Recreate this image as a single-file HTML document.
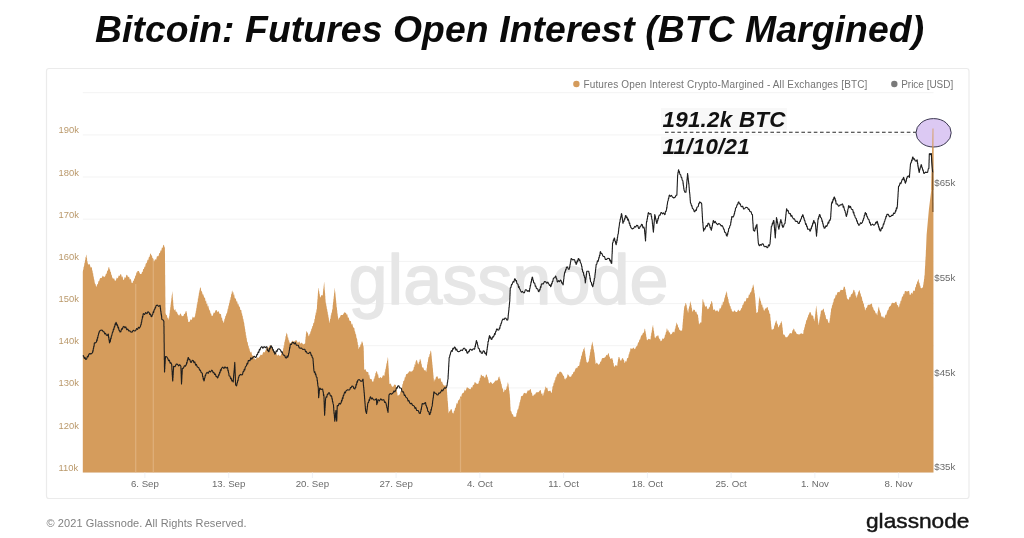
<!DOCTYPE html>
<html lang="en"><head><meta charset="utf-8"><title>Bitcoin: Futures Open Interest (BTC Margined)</title>
<style>
html,body{margin:0;padding:0;background:#fff;}
body{width:1024px;height:538px;overflow:hidden;position:relative;font-family:"Liberation Sans",Arial,sans-serif;}
svg{position:absolute;left:0;top:0;display:block;filter:blur(0.35px);}
text{font-family:"Liberation Sans",Arial,sans-serif;}
.title{font-size:37.3px;letter-spacing:0.1px;font-weight:bold;font-style:italic;fill:#0a0a0a;}
.ann{font-size:22.4px;letter-spacing:0.25px;font-weight:bold;font-style:italic;fill:#111;}
.ax text{font-size:9.7px;fill:#6b6b6b;}
.yl text{font-size:9.4px;fill:#ba996b;}
.lg text{font-size:10px;fill:#757575;}
.grid line{stroke:#f3f3f3;stroke-width:1;}
</style></head>
<body>
<svg width="1024" height="538" viewBox="0 0 1024 538">
<rect x="0" y="0" width="1024" height="538" fill="#ffffff"/>
<text class="title" x="95" y="41.7">Bitcoin: Futures Open Interest (BTC Margined)</text>
<rect x="46.5" y="68.5" width="922.5" height="430" rx="2.5" fill="#fff" stroke="#ebebeb" stroke-width="1.2"/>
<g class="grid"><line x1="82.8" x2="933.5" y1="92.7" y2="92.7"/><line x1="82.8" x2="933.5" y1="134.9" y2="134.9"/><line x1="82.8" x2="933.5" y1="177.0" y2="177.0"/><line x1="82.8" x2="933.5" y1="219.2" y2="219.2"/><line x1="82.8" x2="933.5" y1="261.4" y2="261.4"/><line x1="82.8" x2="933.5" y1="303.6" y2="303.6"/><line x1="82.8" x2="933.5" y1="345.7" y2="345.7"/><line x1="82.8" x2="933.5" y1="387.9" y2="387.9"/><line x1="82.8" x2="933.5" y1="430.1" y2="430.1"/><line x1="82.8" x2="933.5" y1="472.2" y2="472.2"/></g>
<text x="348.5" y="303.5" font-size="70" fill="#e6e6e6" stroke="#e6e6e6" stroke-width="1.4" stroke-linejoin="round" textLength="320" lengthAdjust="spacingAndGlyphs">glassnode</text>
<path d="M82.8,472.4 L82.8,272.0 L83.1,269.6 L83.4,269.8 L83.6,266.6 L83.9,267.0 L84.2,265.3 L84.5,262.5 L84.8,262.9 L85.1,259.9 L85.3,260.0 L85.6,256.9 L85.9,256.9 L86.2,254.6 L86.5,255.2 L86.7,257.9 L87.0,257.8 L87.2,261.5 L87.5,261.0 L87.7,263.3 L88.7,264.8 L89.7,263.9 L90.6,267.5 L91.6,267.3 L91.9,267.4 L92.2,270.9 L92.5,270.0 L92.8,273.5 L93.1,273.0 L93.4,276.6 L93.7,276.6 L94.0,279.4 L94.3,279.4 L94.6,281.9 L95.1,284.2 L95.5,283.4 L96.0,286.4 L96.5,286.8 L97.2,284.0 L97.8,284.5 L98.5,281.1 L99.1,281.3 L99.8,278.7 L100.4,278.0 L101.6,278.0 L102.8,275.6 L104.1,277.2 L105.3,276.0 L106.0,273.5 L106.6,274.0 L107.2,270.5 L107.9,270.8 L108.5,267.2 L109.2,267.3 L109.6,269.7 L110.0,269.1 L110.4,272.3 L110.9,271.6 L111.3,275.4 L111.7,274.2 L112.1,277.0 L113.1,278.9 L114.0,278.0 L115.0,281.0 L115.9,280.2 L116.8,277.5 L117.8,278.5 L118.7,275.4 L119.6,275.9 L120.5,274.0 L121.2,274.4 L121.9,277.4 L122.5,276.1 L123.2,279.7 L123.9,280.0 L124.7,277.1 L125.6,278.1 L126.4,274.8 L127.2,275.0 L128.1,277.2 L129.0,276.4 L129.9,279.7 L130.8,278.8 L131.7,282.9 L132.6,283.0 L133.1,280.5 L133.7,281.3 L134.2,278.2 L134.8,278.7 L135.3,275.0 L135.9,276.3 L136.4,272.1 L137.0,272.9 L137.5,271.0 L138.8,270.9 L140.1,274.0 L141.4,274.0 L142.0,271.9 L142.6,272.1 L143.2,269.1 L143.9,269.1 L144.5,266.5 L145.1,267.0 L145.7,263.8 L146.3,263.3 L146.9,262.5 L147.6,259.4 L148.2,260.3 L148.9,256.9 L149.5,257.1 L150.2,253.7 L150.8,253.6 L151.4,256.1 L151.9,254.7 L152.4,258.6 L153.0,257.8 L153.6,260.8 L154.1,261.4 L155.1,259.1 L156.1,260.1 L157.0,256.0 L158.0,256.5 L158.7,255.6 L159.3,253.0 L160.0,253.1 L160.6,250.3 L161.3,250.8 L161.9,247.4 L162.6,248.0 L163.2,245.3 L163.9,244.8 L164.4,247.0 L164.9,247.7 L164.9,248.1 L164.9,251.5 L164.9,250.5 L165.0,254.6 L165.0,253.9 L165.0,257.5 L165.0,256.7 L165.0,259.9 L165.0,259.4 L165.0,263.6 L165.1,262.4 L165.1,266.6 L165.1,265.9 L165.1,269.2 L165.1,269.1 L165.1,272.4 L165.1,272.1 L165.1,274.8 L165.2,274.9 L165.2,277.8 L165.2,277.8 L165.2,280.7 L165.2,281.1 L165.2,283.8 L165.2,284.0 L165.3,286.9 L165.3,287.0 L165.3,290.4 L165.3,289.4 L165.3,292.7 L165.3,292.7 L165.3,295.8 L165.3,295.6 L165.4,298.6 L165.4,298.1 L165.4,302.4 L165.4,301.4 L165.4,304.9 L165.4,304.7 L165.4,307.5 L165.5,307.5 L165.5,310.6 L165.5,310.0 L165.5,313.0 L166.2,314.9 L166.8,315.0 L167.5,318.4 L168.1,317.3 L168.8,320.0 L169.0,319.0 L169.2,315.7 L169.4,315.9 L169.5,312.8 L169.7,313.8 L169.9,309.5 L170.1,310.6 L170.3,307.1 L170.5,307.3 L170.6,304.2 L170.8,304.7 L171.0,300.9 L171.2,301.7 L171.4,298.1 L171.6,298.2 L171.7,294.6 L171.9,295.9 L172.1,291.6 L172.3,291.7 L172.4,294.3 L172.6,293.2 L172.7,297.2 L172.8,296.8 L172.9,300.1 L173.1,299.7 L173.2,302.6 L173.3,303.0 L173.4,305.9 L173.6,305.8 L173.7,308.3 L174.5,310.4 L175.3,308.9 L176.0,312.5 L176.8,311.2 L177.6,314.0 L179.1,315.8 L180.5,313.3 L181.9,316.2 L183.4,316.0 L184.2,313.8 L184.9,314.0 L185.7,311.3 L186.4,311.0 L186.7,313.1 L186.9,312.8 L187.2,316.9 L187.5,315.7 L187.8,319.6 L188.0,319.0 L188.3,322.0 L189.4,322.1 L190.6,319.2 L191.7,319.9 L192.8,316.4 L194.0,318.1 L195.1,316.0 L195.4,313.0 L195.6,313.8 L195.9,310.6 L196.1,311.1 L196.4,307.5 L196.6,308.2 L196.9,303.9 L197.2,304.8 L197.4,301.5 L197.7,302.4 L197.9,298.2 L198.2,298.7 L198.5,295.8 L198.7,295.7 L199.0,292.1 L199.2,293.3 L199.5,289.9 L199.7,290.4 L200.0,287.8 L200.7,287.5 L201.3,291.6 L201.9,291.1 L202.6,294.4 L203.2,294.2 L203.9,296.5 L204.4,298.1 L205.0,297.4 L205.5,301.4 L206.1,300.5 L206.6,304.3 L207.2,303.2 L207.7,306.8 L208.3,305.4 L208.8,308.3 L209.4,310.3 L210.0,310.4 L210.5,313.5 L211.1,313.5 L211.7,316.0 L212.7,315.7 L213.7,312.6 L214.6,313.1 L215.6,310.3 L216.6,310.0 L217.6,312.2 L218.6,310.9 L219.5,313.7 L220.5,314.0 L221.0,314.2 L221.5,318.2 L222.0,317.3 L222.5,321.2 L223.0,320.3 L223.5,323.0 L224.0,322.3 L224.5,318.7 L225.0,318.8 L225.4,315.8 L225.9,316.0 L226.4,313.2 L226.9,313.6 L227.4,311.0 L227.8,308.6 L228.1,308.9 L228.5,305.2 L228.8,306.0 L229.2,302.7 L229.5,303.1 L229.9,299.6 L230.2,300.5 L230.6,297.1 L230.9,297.3 L231.2,294.1 L231.6,294.2 L232.0,290.6 L232.3,290.7 L232.8,292.8 L233.3,292.0 L233.8,295.6 L234.2,294.3 L234.7,297.9 L235.2,298.5 L235.8,298.4 L236.5,301.8 L237.1,301.1 L237.8,304.6 L238.4,303.7 L239.1,307.0 L239.7,306.2 L240.4,309.9 L241.0,310.0 L241.3,310.0 L241.7,313.9 L242.0,312.5 L242.3,316.1 L242.7,315.6 L243.0,319.6 L243.3,318.2 L243.7,321.5 L244.0,322.5 L244.2,323.1 L244.5,326.2 L244.7,326.2 L245.0,329.0 L245.2,329.2 L245.4,332.5 L245.7,331.5 L245.9,335.7 L246.2,335.1 L246.4,338.5 L246.7,337.6 L246.9,340.5 L247.3,342.4 L247.7,341.8 L248.1,346.1 L248.6,345.4 L249.0,349.0 L249.4,348.1 L249.8,350.7 L250.6,352.7 L251.3,351.4 L252.1,355.5 L252.8,355.6 L253.8,356.0 L254.7,358.9 L255.7,359.5 L257.0,357.2 L258.3,358.1 L259.6,356.5 L260.8,354.6 L262.1,355.2 L263.3,352.1 L264.5,352.6 L265.2,351.2 L266.0,349.2 L267.2,346.9 L268.4,348.0 L269.7,345.5 L270.9,345.3 L271.5,347.2 L272.2,346.5 L272.9,350.0 L273.5,349.7 L274.1,353.1 L274.8,353.1 L276.0,352.3 L277.2,355.8 L278.5,354.5 L279.7,356.1 L280.7,355.4 L281.6,352.7 L282.6,352.2 L282.9,351.8 L283.2,348.2 L283.5,348.1 L283.8,345.0 L284.1,345.9 L284.4,341.6 L284.7,342.2 L285.0,339.2 L285.3,339.8 L285.6,335.8 L285.9,336.6 L286.2,333.3 L286.5,332.6 L286.9,334.4 L287.3,334.0 L287.7,337.5 L288.2,337.4 L288.6,340.8 L289.0,339.6 L289.4,342.4 L290.9,343.0 L292.4,340.6 L293.8,342.1 L295.3,340.5 L296.6,340.3 L297.9,342.9 L299.2,341.3 L300.5,343.7 L301.8,342.5 L303.1,344.4 L305.0,343.4 L305.2,343.2 L305.3,339.6 L305.5,339.6 L305.6,336.5 L305.8,336.9 L305.9,334.1 L306.1,334.0 L306.2,331.3 L306.4,330.7 L307.0,332.6 L307.7,332.5 L308.4,335.6 L309.0,336.5 L309.5,333.6 L310.0,334.4 L310.5,331.2 L311.0,331.5 L311.4,328.6 L311.9,328.7 L312.4,326.0 L312.9,325.9 L313.4,322.8 L313.9,322.9 L314.2,322.2 L314.5,318.9 L314.9,319.1 L315.2,315.1 L315.5,315.7 L315.8,312.2 L316.2,313.0 L316.5,309.5 L316.8,309.2 L316.9,308.8 L317.0,305.0 L317.1,305.4 L317.2,301.6 L317.3,302.8 L317.4,298.9 L317.6,299.6 L317.7,295.5 L317.8,296.3 L317.9,292.7 L318.0,292.9 L318.1,290.0 L318.2,289.7 L318.3,287.7 L318.6,288.3 L318.9,291.5 L319.2,290.9 L319.4,293.8 L319.7,293.9 L320.0,297.2 L320.3,297.5 L321.5,294.9 L322.6,295.5 L322.8,294.9 L323.0,291.5 L323.1,291.5 L323.3,288.4 L323.5,288.7 L323.7,285.5 L323.8,285.7 L324.0,282.4 L324.2,281.9 L324.3,284.6 L324.4,283.2 L324.5,287.2 L324.6,286.9 L324.7,290.6 L324.8,289.8 L325.0,293.0 L325.1,293.1 L325.2,296.1 L325.3,295.7 L325.4,299.2 L325.5,299.0 L325.6,301.4 L325.9,303.6 L326.1,303.5 L326.4,306.3 L326.6,306.3 L326.9,309.3 L327.2,309.2 L327.4,311.8 L327.7,311.8 L327.9,314.8 L328.2,314.4 L328.5,318.0 L328.7,317.1 L329.0,321.0 L329.2,320.0 L329.5,322.9 L329.8,322.5 L330.1,318.7 L330.5,319.0 L330.8,315.1 L331.1,315.7 L331.4,312.3 L331.8,313.2 L332.1,309.9 L332.4,309.2 L332.6,308.8 L332.7,304.5 L332.9,305.5 L333.1,301.6 L333.3,302.6 L333.4,299.1 L333.6,299.3 L333.8,295.7 L333.9,296.5 L334.1,292.3 L334.3,293.4 L334.5,289.5 L334.6,290.4 L334.8,287.7 L334.9,287.8 L335.1,291.7 L335.2,291.2 L335.4,294.1 L335.5,294.4 L335.7,297.4 L335.8,297.4 L336.0,300.9 L336.1,300.0 L336.3,303.7 L336.4,302.9 L336.6,306.8 L336.7,307.3 L336.9,307.5 L337.1,310.4 L337.2,310.0 L337.4,314.0 L337.6,313.1 L337.8,316.6 L337.9,315.8 L338.1,319.0 L338.3,320.0 L339.0,317.3 L339.8,318.0 L340.5,315.4 L341.2,315.0 L342.8,314.9 L344.4,312.2 L346.0,313.0 L346.7,314.8 L347.3,314.2 L348.0,318.3 L348.7,317.1 L349.3,320.3 L350.0,321.0 L350.8,321.1 L351.6,324.7 L352.3,323.6 L353.1,327.3 L353.9,327.8 L354.3,328.0 L354.7,331.2 L355.1,331.5 L355.6,334.5 L356.0,334.0 L356.4,337.6 L356.8,338.5 L357.1,338.7 L357.4,341.9 L357.7,342.3 L357.9,345.2 L358.2,344.7 L358.5,348.6 L358.8,349.2 L359.4,346.5 L360.0,347.2 L360.6,344.0 L361.1,344.8 L361.7,341.5 L362.3,341.4 L362.6,343.2 L362.9,342.5 L363.1,346.0 L363.4,345.2 L363.7,348.3 L363.7,351.1 L363.8,350.6 L363.8,353.7 L363.8,353.0 L363.9,357.3 L363.9,356.4 L363.9,359.7 L364.0,359.7 L364.0,363.5 L364.1,362.8 L364.1,366.2 L364.1,366.0 L364.2,369.3 L364.2,370.0 L365.3,369.0 L366.5,371.8 L367.6,372.0 L368.2,371.9 L368.8,375.6 L369.3,374.6 L369.9,378.6 L370.5,379.0 L371.5,378.9 L372.4,381.8 L373.4,381.5 L373.8,378.8 L374.3,378.8 L374.7,376.2 L375.1,376.3 L375.5,372.8 L376.0,373.1 L376.4,371.0 L377.0,371.6 L377.6,374.6 L378.1,374.3 L378.7,378.0 L379.3,378.3 L380.5,377.0 L381.8,378.2 L383.0,375.0 L384.2,376.0 L384.5,375.0 L384.8,371.5 L385.1,372.7 L385.4,368.6 L385.7,369.4 L386.0,366.3 L386.2,366.6 L386.5,362.8 L386.8,363.9 L387.1,360.5 L387.4,360.9 L387.7,357.7 L388.0,357.3 L388.1,359.1 L388.2,359.4 L388.2,362.9 L388.3,362.2 L388.4,365.9 L388.5,365.2 L388.6,368.2 L388.7,367.9 L388.8,371.1 L388.8,371.0 L388.9,374.8 L389.0,373.5 L389.1,377.7 L389.2,376.7 L389.2,380.7 L389.3,379.4 L389.4,383.4 L389.5,384.0 L390.7,383.5 L391.8,386.3 L393.0,387.0 L394.4,384.5 L395.9,385.0 L396.1,387.2 L396.4,386.5 L396.6,390.4 L396.8,390.0 L397.0,392.8 L397.3,392.3 L397.5,395.5 L398.8,395.2 L400.0,394.0 L400.4,391.3 L400.9,391.6 L401.3,388.5 L401.7,388.0 L402.1,387.6 L402.5,383.5 L402.9,384.4 L403.3,381.0 L403.7,381.0 L404.3,380.2 L404.9,376.9 L405.4,377.5 L406.0,374.5 L406.6,374.0 L407.9,373.6 L409.2,371.3 L410.5,371.4 L412.0,371.6 L413.5,369.4 L413.9,366.8 L414.3,367.2 L414.7,363.7 L415.2,365.2 L415.6,361.4 L416.0,361.6 L416.4,359.8 L417.1,360.4 L417.7,363.3 L418.4,364.5 L418.9,362.0 L419.4,362.0 L419.8,359.2 L420.3,358.8 L420.6,360.8 L421.0,360.4 L421.3,364.4 L421.6,363.2 L422.0,366.8 L422.3,367.6 L423.3,367.5 L424.2,370.6 L425.2,369.8 L426.2,372.0 L426.4,371.1 L426.7,368.1 L426.9,368.0 L427.1,364.2 L427.4,364.8 L427.6,361.6 L427.9,362.2 L428.1,359.8 L428.6,356.7 L429.1,357.2 L429.6,354.1 L430.0,354.1 L430.5,350.9 L431.0,350.5 L431.2,352.8 L431.3,351.9 L431.5,356.2 L431.6,355.1 L431.8,358.5 L431.9,358.9 L432.1,362.3 L432.2,361.2 L432.4,365.1 L432.5,364.6 L432.7,367.7 L432.8,367.8 L433.0,370.5 L433.1,373.1 L433.2,371.8 L433.4,375.9 L433.5,374.6 L433.6,378.2 L433.8,378.3 L433.9,381.0 L434.0,382.0 L434.6,379.2 L435.3,379.8 L435.9,377.3 L437.2,375.9 L438.5,378.9 L439.8,378.2 L440.6,378.3 L441.3,382.1 L442.1,381.4 L442.8,384.0 L444.1,385.8 L445.4,385.2 L446.7,387.0 L446.8,389.5 L446.9,389.0 L447.0,392.6 L447.1,391.5 L447.2,394.9 L447.3,394.9 L447.4,397.8 L447.5,397.4 L447.6,401.2 L447.8,400.8 L447.9,403.5 L448.0,403.3 L448.1,406.9 L448.2,406.4 L448.3,409.5 L448.4,409.1 L448.5,412.2 L448.6,413.4 L449.3,411.1 L449.9,411.5 L450.6,409.5 L451.6,409.1 L452.5,413.0 L453.5,413.4 L454.0,410.3 L454.5,411.2 L455.0,408.0 L455.5,408.0 L456.0,406.0 L456.7,402.8 L457.4,404.0 L458.2,400.5 L458.9,400.0 L459.7,399.0 L460.5,396.0 L461.2,396.9 L462.0,393.4 L462.8,393.2 L463.8,392.6 L464.8,389.5 L465.7,390.9 L466.7,387.6 L467.7,387.4 L469.1,388.7 L470.6,389.3 L471.4,387.1 L472.2,387.7 L473.1,384.5 L473.9,385.3 L474.7,382.1 L475.5,382.5 L477.0,384.0 L478.5,383.5 L479.0,380.8 L479.5,381.1 L479.9,377.4 L480.4,378.2 L480.9,374.6 L481.4,374.7 L482.4,376.2 L483.3,375.7 L484.3,377.6 L485.2,377.7 L486.0,374.6 L486.9,374.7 L487.3,377.4 L487.7,376.4 L488.0,379.6 L488.4,379.6 L488.8,382.7 L489.2,383.5 L490.8,381.8 L492.4,384.1 L494.0,382.5 L495.5,380.6 L497.0,380.5 L497.8,379.9 L498.6,376.9 L499.4,376.6 L499.8,379.2 L500.1,378.5 L500.5,381.2 L500.8,381.4 L501.2,384.3 L501.5,383.4 L501.9,386.4 L502.4,389.0 L502.9,387.9 L503.4,392.1 L503.9,392.3 L504.7,389.3 L505.6,390.3 L506.4,388.4 L506.8,386.0 L507.2,386.7 L507.7,382.5 L508.1,382.5 L508.3,384.3 L508.5,384.0 L508.7,387.6 L508.9,387.2 L509.1,390.4 L509.3,390.4 L509.5,393.0 L509.7,394.2 L509.8,394.7 L509.9,397.9 L510.0,397.0 L510.1,400.7 L510.2,400.1 L510.2,403.8 L510.3,403.7 L510.4,407.4 L510.5,406.2 L510.6,410.0 L510.7,410.8 L511.4,411.5 L512.1,414.5 L512.9,414.1 L513.6,416.7 L515.6,416.7 L516.1,416.4 L516.6,412.8 L517.0,413.0 L517.5,409.2 L518.0,409.7 L518.5,407.9 L518.9,405.3 L519.2,406.1 L519.6,402.0 L520.0,402.4 L520.3,399.8 L520.7,399.5 L521.0,396.0 L521.4,396.2 L522.7,395.8 L524.0,392.7 L525.3,393.2 L526.5,393.4 L527.8,390.2 L529.0,390.8 L530.2,389.3 L530.8,389.0 L531.4,393.0 L531.9,392.4 L532.5,395.8 L533.1,396.2 L534.1,394.2 L535.0,394.8 L536.0,392.5 L537.0,392.3 L538.5,392.3 L540.0,390.3 L540.7,390.1 L541.5,394.2 L542.2,393.1 L542.9,396.2 L543.3,395.1 L543.7,392.4 L544.1,392.8 L544.6,388.9 L545.0,390.4 L545.4,386.7 L545.8,386.4 L546.5,388.2 L547.3,387.7 L548.0,390.9 L548.8,391.3 L550.2,390.6 L551.7,393.2 L551.9,392.3 L552.1,388.9 L552.3,390.1 L552.5,386.2 L552.7,386.4 L553.2,386.1 L553.7,382.4 L554.2,383.0 L554.7,380.0 L555.1,380.4 L555.6,376.9 L556.1,377.4 L556.6,375.7 L557.6,373.5 L558.5,374.1 L559.5,371.8 L561.0,371.8 L562.4,373.7 L563.1,375.5 L563.9,375.9 L564.6,379.0 L565.4,379.6 L566.1,377.3 L566.8,378.4 L567.6,374.3 L568.3,374.7 L569.8,376.9 L571.2,376.6 L572.0,374.2 L572.8,374.3 L573.5,371.7 L574.3,371.9 L575.1,369.8 L576.1,367.4 L577.0,368.6 L578.0,365.9 L579.0,365.9 L579.4,365.1 L579.8,361.6 L580.1,362.5 L580.5,358.6 L580.9,359.7 L581.2,355.7 L581.6,356.1 L582.0,354.2 L582.5,351.3 L582.9,352.0 L583.4,348.8 L583.8,349.3 L584.3,347.3 L584.5,347.3 L584.7,350.7 L585.0,350.7 L585.2,353.7 L585.4,353.8 L585.6,357.3 L585.8,356.3 L586.1,359.7 L586.3,359.4 L586.5,362.0 L587.6,362.8 L588.8,361.0 L589.0,358.3 L589.3,358.6 L589.5,355.1 L589.8,356.1 L590.0,352.0 L590.3,352.6 L590.5,349.5 L590.8,349.3 L591.1,348.8 L591.4,344.6 L591.7,345.8 L592.0,342.3 L592.3,341.5 L592.6,343.6 L592.8,343.7 L593.1,346.6 L593.4,345.9 L593.6,350.0 L593.9,349.0 L594.2,352.8 L594.4,352.1 L594.7,355.2 L594.9,357.4 L595.0,357.1 L595.2,360.6 L595.3,359.3 L595.5,362.9 L595.6,363.9 L596.9,362.6 L598.3,364.8 L599.6,363.9 L600.3,361.5 L601.0,361.7 L601.8,358.7 L602.5,358.1 L604.0,358.1 L605.4,357.1 L606.4,354.8 L607.3,355.4 L608.3,353.2 L608.8,353.3 L609.3,356.6 L609.8,356.9 L610.3,359.1 L612.3,358.1 L612.6,360.2 L612.9,359.6 L613.2,363.0 L613.6,362.9 L613.9,365.9 L614.2,366.9 L615.7,364.9 L617.1,365.9 L617.3,365.3 L617.6,362.2 L617.8,361.9 L618.0,358.9 L618.3,359.4 L618.5,357.1 L619.3,357.0 L620.2,360.1 L621.0,361.0 L622.0,358.6 L623.0,358.1 L623.5,360.3 L624.0,359.4 L624.4,362.4 L624.9,363.0 L625.6,360.7 L626.4,361.8 L627.1,358.3 L627.9,358.1 L628.3,357.6 L628.7,354.2 L629.1,354.6 L629.6,350.9 L630.0,352.4 L630.4,348.6 L630.8,348.3 L632.1,349.1 L633.4,347.5 L634.7,349.3 L635.4,348.6 L636.2,346.1 L636.9,346.8 L637.6,344.4 L638.2,341.9 L638.8,342.8 L639.4,339.2 L640.0,340.1 L640.6,337.6 L641.3,335.2 L642.0,335.6 L642.8,333.2 L643.5,332.7 L644.0,332.2 L644.6,328.7 L645.1,328.8 L645.3,331.4 L645.6,330.9 L645.8,334.1 L646.0,333.5 L646.3,336.9 L646.5,336.7 L646.8,339.6 L647.0,340.5 L648.6,338.7 L650.3,339.5 L650.6,339.2 L650.8,335.7 L651.1,335.9 L651.3,332.1 L651.6,333.4 L651.9,329.8 L652.1,329.7 L652.4,326.2 L652.6,327.6 L652.9,324.9 L653.1,325.1 L653.3,328.1 L653.5,327.5 L653.7,331.2 L654.0,330.3 L654.2,334.3 L654.4,333.2 L654.6,336.6 L654.8,337.6 L655.4,338.3 L656.2,335.8 L656.9,336.8 L657.7,335.3 L658.4,335.6 L659.2,339.4 L659.9,338.2 L660.6,341.2 L661.6,340.7 L662.6,338.3 L663.6,339.0 L664.6,337.3 L665.0,334.6 L665.4,335.0 L665.9,332.0 L666.3,332.0 L666.7,328.5 L667.1,328.5 L667.8,330.9 L668.4,330.1 L669.1,332.9 L669.7,331.7 L670.4,334.4 L671.7,334.1 L673.0,331.5 L674.3,332.4 L674.6,331.4 L675.0,328.3 L675.3,329.0 L675.7,325.4 L676.0,326.0 L676.4,322.8 L676.7,322.6 L677.2,324.8 L677.7,324.2 L678.2,327.7 L678.7,326.9 L679.2,329.5 L680.7,330.7 L682.1,330.5 L682.2,328.2 L682.4,328.4 L682.5,324.8 L682.6,325.0 L682.8,321.5 L682.9,322.6 L683.0,318.8 L683.2,319.0 L683.3,315.8 L683.4,315.9 L683.6,313.1 L683.7,313.2 L683.8,310.2 L684.0,310.2 L684.1,308.0 L684.6,305.5 L685.0,305.9 L685.5,303.0 L686.0,303.1 L686.3,304.9 L686.6,304.4 L686.9,308.4 L687.1,307.5 L687.4,310.5 L687.7,310.3 L688.0,312.9 L688.3,312.1 L688.6,308.3 L688.9,308.9 L689.2,305.5 L689.6,306.9 L689.9,302.7 L690.2,303.8 L690.5,301.2 L690.8,301.8 L691.1,305.5 L691.4,304.6 L691.6,308.5 L691.9,307.2 L692.2,310.8 L692.5,311.9 L693.6,309.4 L694.8,309.9 L695.5,312.3 L696.3,311.5 L697.0,314.2 L697.8,314.8 L698.0,314.7 L698.2,318.1 L698.4,317.4 L698.5,321.0 L698.7,320.3 L698.9,323.6 L699.1,324.6 L700.2,322.4 L701.3,322.6 L701.4,322.3 L701.5,318.7 L701.5,318.8 L701.6,315.5 L701.7,315.9 L701.8,313.0 L701.9,312.8 L702.0,310.0 L702.0,310.7 L702.1,306.6 L702.2,307.7 L702.3,304.1 L702.4,304.7 L702.4,301.3 L702.5,301.5 L702.6,299.2 L703.1,299.3 L703.6,302.8 L704.1,302.0 L704.6,305.1 L705.6,306.9 L706.5,305.7 L707.5,309.2 L708.5,309.0 L709.1,306.8 L709.7,307.7 L710.2,303.7 L710.8,304.5 L711.4,301.0 L712.0,301.2 L712.2,303.2 L712.5,302.4 L712.7,306.4 L712.9,305.9 L713.2,309.5 L713.4,309.9 L714.6,309.2 L715.8,311.4 L717.1,309.9 L718.3,311.9 L719.0,311.0 L719.8,307.9 L720.5,308.8 L721.2,307.0 L721.8,304.3 L722.4,305.5 L722.9,301.6 L723.5,302.5 L724.1,300.2 L724.5,297.7 L724.9,297.6 L725.3,295.0 L725.7,294.8 L726.1,291.5 L726.5,291.4 L726.8,293.6 L727.1,293.1 L727.4,297.0 L727.8,296.4 L728.1,299.2 L728.4,298.8 L728.7,302.0 L729.0,303.1 L729.5,303.6 L730.0,306.3 L730.5,306.1 L730.9,308.9 L731.4,308.6 L731.9,310.9 L733.2,312.1 L734.5,310.2 L735.8,311.9 L737.0,311.9 L738.2,309.5 L739.5,311.2 L740.7,309.9 L741.3,307.7 L741.9,308.4 L742.5,304.8 L743.1,304.9 L743.7,303.1 L744.7,301.0 L745.7,301.6 L746.6,297.8 L747.6,298.2 L748.2,298.0 L748.9,294.5 L749.5,294.9 L750.2,292.2 L750.9,292.6 L751.5,290.4 L752.0,287.7 L752.5,288.1 L752.9,284.7 L753.4,284.6 L753.6,286.9 L753.9,286.0 L754.1,290.2 L754.3,289.7 L754.5,293.4 L754.8,293.0 L755.0,295.3 L755.1,297.6 L755.2,297.1 L755.4,300.2 L755.5,300.4 L755.6,303.7 L755.7,303.3 L755.8,306.4 L755.9,305.4 L756.0,308.9 L756.2,309.0 L756.3,312.3 L756.4,312.9 L757.9,311.9 L758.0,309.1 L758.2,309.7 L758.3,305.7 L758.5,306.1 L758.6,303.0 L758.7,303.1 L758.9,300.2 L759.0,300.6 L759.2,296.3 L759.3,296.3 L759.7,298.7 L760.1,298.3 L760.4,301.5 L760.8,300.3 L761.2,303.1 L761.7,305.2 L762.2,304.2 L762.7,307.7 L763.2,307.3 L763.7,310.0 L764.2,310.9 L765.2,308.6 L766.1,308.6 L767.1,307.0 L767.7,307.3 L768.3,310.8 L768.8,309.7 L769.4,313.6 L770.0,313.9 L770.2,314.0 L770.3,317.6 L770.5,317.3 L770.6,320.9 L770.8,320.2 L771.0,324.1 L771.1,323.8 L771.3,327.3 L771.4,326.2 L771.6,329.5 L772.8,329.5 L773.9,328.5 L774.3,325.3 L774.7,325.7 L775.1,322.8 L775.5,322.8 L775.9,320.7 L776.5,320.6 L777.1,324.6 L777.6,323.3 L778.2,326.8 L778.8,327.5 L779.4,324.5 L780.0,325.4 L780.5,322.4 L781.1,323.2 L781.7,320.7 L781.9,320.9 L782.1,324.7 L782.2,323.9 L782.4,328.0 L782.6,327.1 L782.8,331.0 L782.9,329.9 L783.1,334.0 L783.3,334.4 L784.5,334.7 L785.6,337.3 L787.1,337.3 L788.6,335.3 L790.0,333.0 L791.5,333.4 L792.0,332.8 L792.5,330.0 L793.0,330.6 L793.5,328.5 L794.2,328.9 L795.0,332.1 L795.7,331.3 L796.4,333.4 L797.8,334.2 L799.3,334.4 L801.1,333.3 L802.9,334.0 L803.3,333.7 L803.6,330.0 L804.0,330.1 L804.4,327.4 L804.8,327.0 L805.1,323.8 L805.5,324.7 L805.9,322.3 L806.4,319.5 L806.9,320.5 L807.4,317.3 L807.9,317.6 L808.4,314.2 L808.9,315.0 L809.4,312.5 L810.5,311.9 L811.6,315.6 L812.7,315.4 L813.2,316.1 L813.7,319.5 L814.1,318.2 L814.6,321.3 L814.8,321.0 L814.9,317.3 L815.1,317.1 L815.2,314.2 L815.4,313.8 L815.6,310.4 L815.7,311.5 L815.9,307.5 L816.0,308.4 L816.2,305.7 L816.4,305.8 L816.6,309.3 L816.8,309.4 L816.9,312.1 L817.1,311.7 L817.3,315.2 L817.5,315.1 L817.7,318.4 L817.9,318.4 L818.0,321.3 L818.2,321.2 L818.4,324.7 L818.6,325.2 L818.9,322.6 L819.1,322.9 L819.4,319.1 L819.6,320.1 L819.9,316.3 L820.1,317.3 L820.4,314.1 L820.6,314.1 L820.9,310.8 L821.1,310.5 L822.2,310.6 L823.4,308.6 L823.8,309.0 L824.3,312.6 L824.7,311.9 L825.1,315.2 L825.5,314.7 L826.0,318.2 L826.4,319.3 L827.4,319.1 L828.3,322.4 L829.3,323.2 L829.5,321.0 L829.7,320.8 L829.9,317.3 L830.1,318.6 L830.3,315.1 L830.5,315.2 L830.7,311.8 L830.9,312.6 L831.1,309.1 L831.3,308.6 L831.7,308.0 L832.1,304.7 L832.5,305.5 L833.0,302.0 L833.4,302.8 L833.8,299.2 L834.2,298.8 L835.0,297.9 L835.8,294.6 L836.5,295.5 L837.3,292.5 L838.1,292.0 L839.4,292.3 L840.7,289.8 L842.0,290.0 L843.0,290.1 L843.9,286.6 L844.9,287.1 L845.2,289.7 L845.5,288.8 L845.8,292.4 L846.0,292.1 L846.3,295.5 L846.6,294.7 L846.9,297.9 L847.8,299.2 L848.8,299.8 L849.5,296.7 L850.3,297.2 L851.0,294.4 L851.8,293.9 L852.6,293.2 L853.5,289.7 L854.3,290.0 L854.8,292.4 L855.2,292.0 L855.7,295.9 L856.1,295.3 L856.6,297.9 L857.0,297.3 L857.5,294.0 L857.9,295.0 L858.3,291.1 L858.8,292.2 L859.2,290.0 L859.7,290.4 L860.2,293.6 L860.7,293.5 L861.1,297.0 L861.6,295.9 L862.1,298.8 L862.5,301.3 L862.9,300.8 L863.3,303.9 L863.8,303.1 L864.2,307.0 L864.6,306.7 L865.0,309.8 L865.4,310.5 L866.1,307.4 L866.9,308.1 L867.6,305.2 L868.4,304.7 L869.8,304.8 L871.3,303.7 L871.9,303.6 L872.5,307.5 L873.0,306.9 L873.6,309.6 L874.2,310.5 L874.9,310.7 L875.7,313.6 L876.4,312.9 L877.1,315.4 L877.4,314.4 L877.6,311.4 L877.9,311.5 L878.2,307.8 L878.4,309.1 L878.7,306.6 L879.1,307.2 L879.5,310.8 L879.9,310.2 L880.3,313.1 L880.7,312.2 L881.1,315.4 L882.1,317.5 L883.0,315.9 L884.0,318.4 L884.7,317.6 L885.5,314.5 L886.2,314.9 L886.9,312.5 L887.6,310.2 L888.3,310.1 L889.1,306.9 L889.8,306.6 L890.8,305.6 L891.8,302.9 L892.8,302.7 L894.2,303.3 L895.7,301.8 L896.4,301.8 L897.2,305.5 L897.9,304.8 L898.6,307.6 L899.1,306.9 L899.6,303.8 L900.1,304.1 L900.6,300.6 L901.1,301.3 L901.6,298.8 L902.2,295.9 L902.9,296.9 L903.5,293.6 L904.2,294.6 L904.9,291.1 L905.5,291.0 L907.0,291.5 L908.4,291.0 L909.1,290.8 L909.7,294.8 L910.4,294.9 L911.4,292.4 L912.3,293.9 L913.3,290.4 L914.3,291.0 L914.8,290.5 L915.3,286.7 L915.8,287.4 L916.2,284.1 L916.7,284.6 L917.2,281.4 L917.7,281.5 L918.2,279.3 L918.6,279.3 L919.0,283.2 L919.5,282.3 L919.9,285.7 L920.3,285.5 L920.7,288.1 L921.9,288.3 L923.0,287.1 L923.2,284.3 L923.4,284.9 L923.6,281.3 L923.8,282.5 L924.0,278.9 L924.2,279.3 L924.4,275.4 L924.6,275.4 L924.7,274.6 L924.8,271.2 L924.8,272.2 L924.9,268.6 L925.0,268.8 L925.1,265.5 L925.2,266.0 L925.3,261.8 L925.3,262.8 L925.4,259.6 L925.5,259.8 L925.6,256.2 L925.7,257.0 L925.8,253.2 L925.8,253.9 L925.9,249.9 L926.0,250.0 L926.6,235.0 L928.9,209.5 L931.3,190.0 L932.0,160.0 L932.6,128.5 L933.4,128.5 L933.5,472.4 Z" fill="#D59C5C"/>
<g stroke="#e6bd8f" stroke-width="1.2" opacity="0.6"><line x1="135.7" x2="135.7" y1="284" y2="472.4"/><line x1="153.3" x2="153.3" y1="259" y2="472.4"/><line x1="460.5" x2="460.5" y1="398" y2="472.4"/></g><g stroke="#eff1f5" stroke-width="1"><line x1="144.9" x2="144.9" y1="472.6" y2="478"/><line x1="228.7" x2="228.7" y1="472.6" y2="478"/><line x1="312.4" x2="312.4" y1="472.6" y2="478"/><line x1="396.1" x2="396.1" y1="472.6" y2="478"/><line x1="479.9" x2="479.9" y1="472.6" y2="478"/><line x1="563.6" x2="563.6" y1="472.6" y2="478"/><line x1="647.4" x2="647.4" y1="472.6" y2="478"/><line x1="731.1" x2="731.1" y1="472.6" y2="478"/><line x1="814.9" x2="814.9" y1="472.6" y2="478"/><line x1="898.6" x2="898.6" y1="472.6" y2="478"/></g>
<path d="M82.8,355.6 L83.5,355.8 L84.3,358.4 L85.0,357.4 L85.8,359.5 L86.6,359.1 L87.4,356.3 L88.1,356.8 L88.9,354.2 L89.7,353.6 L91.2,353.9 L92.6,352.6 L92.8,350.5 L93.1,351.2 L93.3,348.5 L93.6,348.4 L93.8,346.0 L94.1,346.4 L94.3,343.2 L94.6,342.9 L95.5,342.9 L96.5,341.9 L96.8,339.5 L97.1,340.7 L97.5,337.4 L97.8,338.0 L98.1,335.4 L98.4,335.2 L98.8,332.7 L99.1,332.9 L99.4,331.2 L100.9,330.1 L102.4,330.2 L103.2,331.8 L104.0,331.7 L104.7,333.9 L105.5,333.3 L106.3,335.0 L107.2,335.6 L108.2,334.0 L108.4,334.4 L108.6,337.5 L108.8,337.0 L109.0,340.0 L109.2,339.6 L109.4,342.3 L109.6,342.9 L110.0,340.4 L110.3,341.6 L110.7,338.0 L111.0,338.8 L111.4,335.9 L111.7,335.9 L112.1,334.0 L112.5,332.1 L113.0,331.9 L113.4,329.1 L113.8,329.6 L114.3,326.5 L114.7,327.0 L115.1,323.8 L115.6,324.8 L116.0,322.4 L116.5,323.2 L117.0,325.4 L117.5,324.9 L118.0,328.0 L118.5,327.2 L119.0,330.3 L119.5,330.3 L120.0,332.0 L120.8,331.8 L121.6,328.7 L122.3,329.2 L123.1,327.0 L123.9,326.3 L124.9,327.8 L125.8,326.8 L126.8,329.8 L127.8,329.0 L128.8,331.0 L129.7,330.7 L130.7,332.0 L132.0,332.1 L133.3,330.3 L134.6,331.0 L135.6,330.8 L136.6,328.6 L137.6,329.4 L138.5,327.3 L139.5,328.1 L140.5,326.3 L140.8,324.5 L141.1,324.7 L141.4,322.0 L141.7,322.0 L141.9,319.4 L142.2,319.3 L142.5,316.2 L142.8,317.2 L143.1,314.2 L143.4,313.6 L144.6,314.5 L145.7,312.6 L146.9,313.7 L148.0,311.7 L149.2,312.6 L149.8,314.5 L150.5,314.1 L151.2,316.7 L151.8,316.5 L152.3,314.7 L152.7,314.7 L153.2,311.9 L153.7,312.4 L154.1,309.9 L154.6,309.8 L155.1,307.7 L155.5,307.9 L156.0,305.8 L157.3,305.1 L158.7,306.4 L160.0,305.4 L160.2,306.0 L160.4,308.7 L160.5,308.1 L160.7,311.3 L160.9,310.9 L161.1,314.1 L161.3,313.7 L161.5,316.1 L161.6,315.7 L161.8,319.2 L162.0,319.4 L162.9,319.8 L163.9,321.4 L163.9,323.3 L163.9,323.0 L163.9,326.4 L164.0,326.0 L164.0,329.0 L164.0,328.1 L164.0,331.4 L164.0,331.0 L164.0,333.6 L164.1,333.9 L164.1,336.8 L164.1,336.4 L164.1,339.2 L164.1,338.9 L164.1,341.9 L164.1,341.3 L164.2,344.1 L164.2,344.2 L164.2,347.0 L164.2,346.9 L164.2,349.2 L164.2,349.1 L164.3,352.3 L164.3,351.6 L164.3,354.5 L164.3,354.0 L164.3,357.0 L164.3,357.3 L164.3,359.7 L164.4,359.6 L164.4,362.1 L164.4,362.4 L164.4,364.9 L164.4,364.6 L164.4,367.3 L164.5,367.4 L164.5,370.5 L164.5,369.5 L164.5,372.0 L164.6,371.6 L164.7,368.5 L164.8,369.0 L164.8,366.3 L164.9,366.0 L165.0,363.8 L165.1,364.1 L165.2,360.7 L165.2,361.5 L165.3,358.6 L165.4,358.7 L165.5,356.5 L166.7,356.7 L167.8,358.5 L168.6,360.7 L169.4,360.2 L170.1,363.2 L170.9,362.7 L171.7,364.4 L171.8,366.5 L171.9,366.0 L171.9,369.4 L172.0,368.5 L172.1,371.8 L172.2,371.0 L172.2,374.5 L172.3,373.9 L172.4,376.8 L172.5,376.0 L172.5,379.5 L172.6,379.0 L172.7,381.0 L172.8,380.7 L172.9,377.2 L173.0,377.9 L173.1,374.7 L173.2,375.0 L173.2,372.1 L173.3,372.5 L173.4,369.8 L173.5,369.9 L173.6,366.4 L173.7,366.3 L175.0,366.8 L176.3,364.0 L177.6,364.4 L178.7,365.8 L179.8,364.7 L180.9,366.3 L180.9,368.4 L181.0,368.1 L181.0,371.1 L181.1,370.8 L181.1,373.6 L181.2,373.4 L181.2,376.0 L181.2,375.6 L181.3,378.2 L181.3,377.9 L181.4,380.9 L181.4,380.5 L181.5,383.8 L181.5,383.9 L181.6,382.0 L181.7,381.7 L181.7,379.3 L181.8,379.6 L181.9,376.8 L181.9,376.7 L182.0,373.7 L182.1,374.4 L182.2,371.4 L182.2,372.0 L182.3,368.9 L182.4,368.3 L183.4,368.3 L184.4,365.8 L185.4,366.1 L186.4,364.4 L186.7,362.2 L187.0,363.2 L187.4,359.8 L187.7,360.5 L188.0,357.8 L188.3,357.5 L189.0,359.4 L189.8,359.4 L190.5,362.0 L191.2,362.4 L192.2,360.4 L193.2,360.5 L194.0,362.7 L194.8,361.8 L195.6,365.1 L196.4,364.4 L197.2,366.7 L198.0,367.3 L198.8,367.7 L199.6,370.2 L200.4,370.1 L201.2,372.6 L202.0,373.0 L202.3,373.4 L202.6,376.5 L202.9,376.3 L203.3,379.4 L203.6,378.5 L203.9,381.0 L204.2,380.6 L204.6,378.2 L204.9,377.9 L205.2,375.2 L205.6,375.6 L205.9,374.0 L207.1,372.3 L208.2,373.3 L209.4,371.1 L210.5,372.0 L211.7,370.2 L212.4,370.7 L213.2,372.7 L213.9,372.4 L214.6,374.5 L215.4,374.0 L216.1,376.7 L216.9,376.5 L217.6,378.0 L218.1,377.2 L218.6,374.7 L219.1,375.1 L219.6,372.2 L220.0,372.9 L220.5,369.7 L221.0,370.7 L221.5,368.3 L222.7,367.1 L223.9,368.5 L225.0,366.9 L226.2,368.1 L227.4,367.3 L227.7,368.1 L227.9,370.6 L228.2,370.1 L228.5,372.8 L228.8,372.9 L229.0,375.4 L229.3,376.0 L230.0,376.0 L230.6,378.8 L231.2,378.1 L231.9,381.0 L232.5,380.3 L233.2,382.0 L233.3,381.7 L233.4,378.3 L233.5,378.6 L233.6,375.6 L233.7,376.5 L233.8,373.6 L233.9,373.6 L234.1,370.6 L234.2,371.4 L234.3,368.2 L234.4,368.5 L234.5,365.2 L234.6,366.1 L234.7,362.6 L234.8,362.4 L234.8,364.5 L234.9,364.1 L234.9,367.0 L235.0,366.7 L235.0,370.1 L235.1,369.4 L235.1,372.6 L235.2,372.4 L235.2,375.4 L235.3,374.5 L235.3,378.1 L235.4,377.4 L235.4,380.6 L235.5,380.3 L235.5,383.4 L235.6,382.5 L235.6,384.9 L236.5,385.8 L236.8,385.3 L237.1,382.9 L237.4,382.9 L237.8,380.1 L238.1,380.7 L238.4,377.6 L238.7,377.7 L239.0,376.0 L240.5,374.4 L242.0,375.0 L242.6,374.2 L243.1,371.5 L243.7,371.8 L244.2,369.3 L244.8,369.8 L245.3,367.0 L245.9,366.3 L246.5,365.7 L247.1,363.2 L247.7,363.8 L248.3,360.6 L248.9,360.5 L249.9,360.7 L250.9,357.8 L251.8,359.1 L252.8,357.5 L254.2,356.3 L255.7,357.5 L256.3,356.8 L256.9,354.5 L257.5,354.7 L258.1,352.0 L258.8,352.4 L259.4,349.3 L260.0,349.8 L260.6,347.8 L261.8,346.5 L262.9,348.3 L264.1,346.5 L265.2,347.7 L266.4,346.8 L266.9,346.9 L267.4,350.4 L267.9,349.9 L268.4,351.7 L269.0,351.6 L269.6,348.2 L270.1,349.0 L270.7,346.1 L271.3,345.8 L271.8,347.6 L272.3,347.3 L272.8,350.2 L273.3,349.7 L273.8,352.2 L274.3,351.7 L274.8,354.1 L275.5,353.7 L276.2,350.9 L277.0,351.5 L277.7,349.2 L279.1,348.8 L280.6,350.2 L281.4,352.2 L282.1,351.7 L282.9,354.3 L283.6,355.1 L284.6,355.2 L285.5,357.8 L286.5,358.0 L287.2,355.9 L287.8,357.2 L288.5,355.1 L288.7,353.1 L289.0,353.2 L289.2,350.6 L289.4,350.5 L289.7,347.4 L289.9,348.2 L290.2,344.9 L290.4,344.4 L291.4,344.4 L292.3,342.5 L293.3,342.4 L294.3,344.0 L295.3,342.7 L296.3,345.1 L297.3,345.3 L298.3,345.3 L299.2,347.7 L300.2,348.3 L301.5,348.0 L302.8,349.5 L304.1,349.2 L304.8,349.2 L305.6,351.8 L306.3,351.4 L307.0,353.1 L308.5,353.6 L310.0,352.2 L310.6,352.9 L311.2,355.5 L311.7,355.2 L312.3,357.7 L312.9,358.0 L313.0,358.6 L313.1,361.1 L313.2,360.9 L313.3,363.7 L313.4,363.5 L313.5,366.2 L313.6,365.8 L313.7,368.5 L313.8,368.6 L313.9,370.4 L314.4,372.5 L314.9,371.8 L315.4,374.7 L315.8,373.9 L316.3,377.0 L316.8,377.3 L317.0,377.5 L317.2,380.6 L317.4,380.3 L317.6,383.7 L317.7,382.9 L317.9,386.0 L318.1,386.0 L318.3,388.0 L318.4,390.4 L318.4,389.9 L318.4,392.9 L318.5,391.8 L318.6,394.6 L318.6,394.7 L318.6,397.6 L318.7,397.8 L318.8,396.0 L318.9,395.8 L319.1,393.1 L319.2,393.6 L319.3,390.6 L319.4,391.0 L319.6,388.5 L319.7,388.0 L321.1,389.5 L322.6,389.0 L322.8,389.9 L323.1,392.2 L323.3,392.0 L323.5,395.5 L323.8,394.5 L324.0,397.0 L324.0,398.8 L324.1,398.8 L324.1,401.9 L324.2,401.4 L324.2,404.5 L324.3,404.3 L324.3,406.6 L324.3,407.0 L324.4,409.2 L324.4,409.2 L324.5,412.2 L324.5,411.8 L324.6,414.5 L324.6,415.3 L324.7,413.5 L324.8,413.3 L324.8,410.4 L324.9,411.4 L325.0,407.8 L325.1,408.1 L325.1,405.9 L325.2,406.2 L325.3,403.0 L325.4,403.5 L325.4,400.6 L325.5,400.8 L325.6,398.7 L326.2,396.7 L326.8,397.1 L327.3,394.3 L327.9,394.5 L328.5,392.9 L329.5,392.9 L330.4,395.9 L331.4,395.8 L331.7,396.5 L332.0,399.1 L332.3,398.6 L332.5,401.6 L332.8,401.5 L333.1,403.9 L333.4,404.6 L333.5,405.1 L333.6,407.6 L333.7,407.3 L333.8,410.8 L333.9,410.0 L334.0,413.4 L334.2,412.6 L334.3,415.6 L334.4,415.2 L334.5,418.2 L334.6,417.5 L334.7,421.0 L334.8,421.2 L334.9,419.2 L335.1,419.7 L335.2,416.2 L335.4,416.9 L335.5,413.5 L335.6,413.9 L335.8,410.7 L335.9,410.5 L336.0,412.9 L336.1,412.2 L336.2,415.5 L336.3,414.8 L336.4,417.9 L336.5,417.5 L336.6,420.3 L336.7,421.2 L336.8,419.2 L336.8,419.4 L336.9,416.9 L336.9,416.7 L336.9,413.8 L337.0,414.3 L337.1,411.5 L337.1,412.0 L337.1,408.6 L337.2,408.9 L337.2,406.0 L337.3,405.6 L338.3,405.7 L339.2,403.3 L340.2,404.1 L341.2,402.6 L341.6,400.2 L342.0,401.0 L342.4,397.9 L342.9,398.6 L343.3,395.2 L343.7,395.6 L344.1,393.9 L344.7,392.0 L345.4,392.9 L346.0,390.9 L347.5,389.8 L349.0,390.0 L349.8,389.7 L350.5,387.5 L351.2,387.6 L352.0,386.0 L353.0,386.3 L353.9,388.5 L354.9,389.0 L355.3,387.1 L355.7,387.6 L356.1,384.4 L356.6,384.8 L357.0,381.5 L357.4,382.3 L357.8,380.2 L359.2,379.5 L360.7,381.2 L361.9,381.1 L363.0,379.2 L363.1,379.4 L363.2,382.2 L363.3,382.1 L363.4,385.2 L363.5,385.0 L363.7,387.8 L363.8,387.4 L363.9,390.0 L364.0,389.9 L364.1,392.5 L364.2,392.9 L364.3,393.3 L364.4,395.9 L364.5,395.5 L364.6,398.7 L364.7,398.4 L364.8,401.3 L364.9,401.0 L365.0,403.6 L365.1,403.3 L365.2,406.3 L365.3,406.1 L365.4,409.0 L365.5,408.6 L365.6,410.5 L366.1,412.4 L366.6,413.4 L366.7,411.5 L366.9,411.3 L367.0,409.1 L367.2,409.4 L367.3,406.4 L367.5,407.0 L367.6,404.6 L368.1,402.3 L368.6,402.5 L369.1,399.5 L369.5,400.6 L370.0,397.6 L370.5,396.8 L371.5,398.9 L372.4,398.0 L373.4,399.7 L374.9,400.0 L376.4,398.7 L376.5,398.7 L376.6,401.7 L376.6,401.4 L376.7,404.6 L376.8,404.6 L377.2,402.4 L377.6,402.9 L377.9,399.7 L378.3,399.7 L379.5,400.8 L380.8,398.8 L382.0,400.2 L383.2,399.7 L383.9,399.8 L384.6,402.4 L385.4,402.0 L386.1,403.6 L386.4,405.3 L386.6,405.3 L386.9,407.9 L387.2,407.9 L387.5,410.8 L387.7,410.4 L388.0,412.4 L388.1,411.8 L388.1,409.0 L388.2,409.4 L388.3,406.3 L388.4,406.9 L388.4,403.7 L388.5,404.8 L388.6,401.4 L388.6,401.7 L388.7,399.3 L388.8,399.7 L388.9,396.3 L388.9,397.0 L389.0,394.8 L390.3,393.5 L391.7,394.2 L393.0,392.9 L394.0,390.9 L394.9,391.8 L395.9,389.9 L396.5,387.7 L397.2,388.2 L397.8,386.0 L398.8,385.7 L399.8,387.9 L400.8,388.0 L401.4,388.7 L402.1,391.8 L402.7,391.9 L403.5,391.9 L404.3,395.4 L405.0,395.0 L405.8,397.1 L406.6,397.8 L407.4,398.4 L408.1,401.0 L408.9,400.5 L409.6,402.6 L410.6,403.8 L411.6,403.3 L412.5,405.3 L413.5,405.6 L414.3,406.1 L415.1,408.5 L415.8,407.7 L416.6,410.4 L417.4,410.5 L418.4,410.8 L419.3,413.2 L420.3,413.4 L420.6,411.6 L420.8,411.6 L421.1,408.7 L421.3,409.6 L421.6,406.8 L421.8,406.6 L422.1,403.8 L422.3,403.6 L423.8,404.0 L425.2,402.6 L425.6,402.8 L426.0,405.7 L426.4,405.6 L426.9,408.2 L427.3,407.8 L427.7,410.9 L428.1,411.4 L428.7,411.5 L429.4,414.6 L430.0,414.4 L430.3,412.4 L430.7,412.6 L431.0,409.4 L431.3,410.3 L431.7,407.1 L432.0,406.5 L432.2,405.9 L432.4,403.3 L432.5,403.6 L432.7,400.7 L432.9,400.3 L433.1,397.7 L433.3,398.0 L433.5,394.9 L433.6,395.2 L433.8,392.2 L434.0,391.9 L435.0,393.3 L435.9,393.2 L436.9,394.8 L437.9,395.0 L438.9,392.9 L439.8,393.3 L440.8,391.9 L441.8,389.9 L442.7,390.9 L443.7,389.0 L444.7,387.7 L445.7,388.2 L446.7,387.0 L446.9,385.0 L447.1,385.4 L447.4,382.4 L447.6,382.3 L447.8,379.5 L448.0,379.2 L448.1,378.8 L448.1,375.5 L448.2,376.6 L448.3,373.0 L448.4,373.6 L448.4,370.6 L448.5,371.0 L448.6,368.4 L448.6,368.5 L448.7,365.4 L448.8,366.4 L448.8,363.4 L448.9,363.5 L449.0,360.8 L449.1,360.9 L449.1,358.2 L449.2,357.7 L449.6,357.2 L449.9,354.7 L450.2,354.9 L450.6,352.8 L451.4,350.6 L452.2,351.3 L452.9,348.2 L453.7,349.0 L454.5,347.0 L455.2,347.5 L455.9,350.1 L456.7,349.0 L457.4,351.2 L458.6,351.8 L459.9,351.2 L461.1,350.0 L462.4,350.6 L463.6,348.2 L464.8,348.3 L465.5,350.4 L466.2,349.6 L467.0,352.9 L467.7,353.2 L468.4,351.2 L469.1,351.7 L469.9,349.4 L470.6,349.3 L471.9,350.3 L473.2,348.8 L474.5,349.3 L474.8,348.5 L475.1,345.8 L475.4,346.6 L475.6,343.8 L475.9,343.9 L476.2,341.2 L476.5,340.5 L476.8,342.8 L477.2,342.2 L477.5,345.0 L477.8,345.1 L478.2,348.0 L478.5,348.3 L479.2,348.7 L479.9,351.8 L480.7,351.2 L481.4,353.2 L482.4,353.2 L483.3,350.7 L484.3,351.2 L485.0,353.5 L485.6,353.1 L486.3,355.2 L486.5,354.8 L486.6,351.7 L486.8,352.4 L487.0,349.1 L487.2,349.7 L487.3,346.7 L487.5,347.4 L487.7,344.2 L487.9,345.0 L488.0,341.7 L488.2,341.5 L488.5,341.4 L488.8,338.0 L489.0,338.9 L489.3,336.0 L489.6,335.6 L490.1,337.9 L490.7,337.2 L491.2,339.5 L491.9,339.3 L492.6,336.8 L493.4,337.1 L494.1,335.6 L494.6,333.5 L495.1,334.5 L495.6,331.5 L496.0,331.6 L496.5,329.4 L497.0,328.8 L498.0,330.1 L499.0,329.8 L499.4,327.9 L499.8,328.5 L500.2,325.6 L500.7,325.4 L501.1,323.0 L501.5,323.2 L501.9,321.0 L502.9,319.0 L504.0,319.6 L505.0,318.0 L505.9,318.2 L506.9,320.1 L507.8,320.0 L507.9,317.8 L508.1,318.5 L508.2,315.6 L508.3,315.2 L508.5,312.8 L508.6,312.7 L508.8,310.1 L508.9,310.4 L509.0,307.2 L509.2,307.4 L509.3,304.9 L509.4,304.8 L509.6,302.3 L509.7,301.5 L509.8,301.3 L509.8,298.3 L509.9,298.6 L509.9,295.5 L510.0,296.1 L510.0,293.4 L510.1,293.9 L510.1,290.4 L510.2,291.0 L510.2,288.2 L510.3,287.8 L510.9,287.7 L511.5,284.6 L512.0,284.7 L512.6,282.9 L513.2,281.5 L513.9,282.1 L514.6,278.9 L515.2,279.0 L515.8,280.9 L516.4,280.6 L516.9,283.5 L517.5,283.9 L518.0,284.4 L518.5,287.4 L519.0,286.4 L519.5,289.0 L520.0,289.1 L520.5,290.7 L521.5,292.2 L522.4,291.3 L523.4,292.7 L524.4,292.8 L525.3,289.8 L526.3,289.8 L527.3,291.3 L528.2,290.5 L529.2,291.7 L529.5,290.9 L529.7,288.4 L530.0,288.4 L530.3,285.4 L530.5,286.0 L530.8,283.9 L531.1,281.6 L531.4,282.3 L531.6,279.1 L531.9,279.2 L532.2,277.0 L532.6,277.6 L533.0,280.4 L533.3,280.1 L533.7,282.8 L534.1,282.9 L534.7,283.0 L535.3,286.3 L535.8,286.0 L536.4,288.3 L537.0,288.8 L537.7,288.8 L538.3,291.2 L539.0,291.7 L539.5,289.6 L540.0,289.9 L540.5,286.6 L540.9,287.4 L541.4,284.1 L541.9,283.9 L543.2,283.9 L544.5,281.5 L545.8,281.9 L546.8,283.3 L547.8,282.1 L548.8,283.9 L549.4,285.4 L550.1,284.8 L550.7,286.8 L551.1,286.1 L551.6,283.4 L552.0,283.9 L552.4,281.2 L552.8,281.6 L553.3,278.6 L553.7,278.0 L554.7,277.7 L555.6,276.0 L556.0,276.7 L556.4,279.0 L556.8,278.8 L557.2,281.7 L557.6,281.9 L558.6,280.6 L559.5,281.6 L560.5,280.0 L561.1,280.7 L561.8,283.2 L562.4,282.9 L563.0,284.9 L563.2,284.7 L563.4,281.1 L563.5,281.8 L563.7,279.1 L563.9,278.9 L564.0,275.8 L564.2,276.1 L564.4,274.1 L564.8,271.9 L565.2,272.2 L565.6,269.6 L566.0,269.9 L566.4,267.3 L567.4,266.9 L568.3,269.1 L569.3,269.2 L569.5,267.0 L569.8,267.2 L570.0,264.5 L570.2,264.7 L570.5,261.9 L570.7,261.9 L571.0,259.1 L571.2,258.5 L572.7,259.9 L574.2,259.5 L574.7,260.1 L575.2,262.5 L575.6,262.2 L576.1,264.4 L576.6,263.9 L577.1,260.9 L577.7,261.7 L578.2,258.7 L578.7,258.5 L579.3,260.4 L579.9,259.9 L580.4,262.7 L581.0,263.4 L581.3,264.1 L581.6,266.4 L581.9,266.2 L582.1,269.4 L582.4,269.1 L582.7,271.7 L583.0,272.2 L583.4,272.3 L583.8,275.4 L584.1,275.2 L584.5,277.4 L584.9,278.0 L585.0,278.7 L585.1,281.0 L585.2,280.9 L585.3,282.9 L585.5,282.1 L585.7,279.2 L585.8,279.8 L586.0,276.9 L586.2,277.3 L586.4,274.1 L586.5,274.9 L586.7,271.8 L586.9,271.2 L588.8,271.2 L589.0,273.2 L589.3,273.1 L589.5,275.6 L589.8,275.8 L590.0,278.9 L590.3,278.0 L590.5,281.6 L590.8,281.9 L591.3,282.2 L591.8,285.2 L592.2,285.1 L592.7,286.8 L593.0,286.2 L593.3,283.6 L593.6,284.0 L593.8,281.3 L594.1,281.2 L594.4,278.4 L594.7,278.0 L594.8,277.8 L595.0,274.5 L595.1,275.2 L595.2,272.5 L595.4,272.8 L595.5,269.5 L595.7,270.2 L595.8,267.4 L595.9,267.7 L596.1,265.1 L596.2,264.4 L596.8,264.2 L597.4,260.8 L598.0,261.5 L598.6,259.5 L598.9,257.2 L599.2,258.0 L599.5,255.0 L599.9,255.5 L600.2,252.1 L600.5,251.7 L601.2,253.5 L602.0,253.6 L602.8,255.9 L603.5,256.5 L604.5,256.6 L605.4,259.5 L606.4,259.5 L607.8,258.3 L609.3,258.5 L609.9,260.9 L610.5,260.2 L611.1,263.0 L611.7,263.4 L611.8,261.6 L611.8,262.0 L611.9,259.0 L611.9,259.4 L612.0,256.1 L612.0,256.6 L612.1,253.6 L612.2,253.8 L612.2,250.7 L612.3,251.8 L612.3,248.2 L612.4,248.9 L612.4,246.2 L612.5,246.5 L612.5,243.5 L612.6,242.9 L613.0,242.8 L613.4,239.8 L613.8,240.1 L614.2,238.0 L614.6,238.3 L615.0,241.3 L615.4,241.2 L615.8,243.9 L616.2,244.8 L616.4,243.0 L616.7,242.7 L616.9,239.6 L617.2,240.6 L617.4,237.2 L617.6,237.4 L617.9,234.5 L618.1,234.1 L618.3,233.8 L618.5,230.8 L618.6,231.1 L618.8,227.9 L619.0,228.0 L619.2,225.7 L619.3,225.8 L619.5,223.2 L619.7,222.4 L620.0,221.9 L620.2,219.0 L620.5,219.2 L620.8,216.5 L621.1,216.7 L621.3,214.0 L621.6,213.6 L621.8,215.5 L622.0,215.1 L622.1,217.7 L622.3,217.5 L622.5,220.2 L622.6,219.7 L622.8,223.0 L623.0,223.3 L623.5,221.2 L624.0,221.4 L624.5,218.5 L624.9,219.1 L625.4,215.8 L625.9,215.5 L626.5,217.7 L627.1,217.1 L627.7,220.2 L628.3,219.1 L628.9,221.4 L629.3,223.7 L629.7,223.0 L630.0,225.7 L630.4,225.3 L630.8,227.3 L632.2,228.9 L633.7,228.2 L634.7,226.4 L635.7,227.1 L636.7,225.3 L637.7,225.5 L638.6,228.4 L639.6,228.2 L640.2,226.2 L640.9,226.1 L641.5,224.3 L642.2,224.5 L643.0,227.9 L643.8,227.0 L644.5,229.2 L644.6,231.4 L644.7,230.8 L644.8,233.8 L644.9,233.5 L645.1,236.2 L645.2,236.5 L645.3,239.1 L645.4,238.8 L645.5,240.9 L645.6,240.4 L645.6,237.9 L645.7,238.1 L645.8,235.0 L645.8,235.2 L645.9,232.7 L646.0,232.8 L646.0,230.2 L646.1,230.1 L646.1,227.2 L646.2,228.2 L646.3,224.9 L646.3,225.7 L646.4,223.3 L646.6,221.2 L646.9,221.7 L647.1,218.7 L647.4,219.0 L647.6,215.8 L647.9,216.4 L648.1,213.4 L648.4,212.6 L649.6,214.1 L650.9,213.6 L651.1,214.4 L651.4,217.0 L651.6,216.3 L651.8,219.2 L652.1,219.5 L652.3,221.4 L652.4,223.4 L652.6,223.4 L652.7,225.9 L652.8,225.7 L653.0,229.2 L653.1,228.8 L653.3,231.5 L653.4,232.2 L653.5,230.1 L653.6,230.1 L653.7,228.0 L653.8,228.3 L653.9,225.3 L654.0,225.5 L654.1,222.3 L654.2,223.3 L654.3,220.1 L654.4,220.2 L654.5,217.7 L654.6,218.3 L654.7,214.7 L654.8,214.6 L655.1,216.4 L655.3,216.0 L655.6,219.1 L655.9,218.8 L656.2,221.4 L656.4,221.0 L656.7,223.4 L657.0,223.4 L657.4,220.5 L657.7,220.9 L658.0,218.2 L658.4,218.8 L658.7,216.5 L659.4,215.1 L660.2,215.1 L660.9,212.6 L661.6,212.6 L662.6,213.9 L663.6,212.8 L664.6,214.6 L665.1,214.5 L665.5,211.2 L666.0,211.5 L666.5,209.7 L666.7,207.4 L666.9,208.1 L667.1,204.9 L667.3,204.7 L667.5,202.9 L667.8,201.0 L668.1,201.0 L668.5,198.0 L668.8,198.3 L669.1,195.8 L669.4,195.1 L670.4,196.3 L671.4,195.4 L672.4,197.0 L673.8,198.0 L675.3,197.0 L676.1,195.3 L676.9,195.1 L676.9,194.7 L677.0,191.4 L677.0,192.1 L677.1,189.3 L677.1,189.2 L677.2,186.1 L677.2,186.9 L677.3,184.0 L677.3,184.3 L677.4,181.5 L677.4,181.9 L677.5,178.7 L677.5,178.9 L677.6,176.0 L677.6,175.5 L677.8,174.8 L678.0,172.3 L678.2,172.7 L678.4,170.2 L678.6,169.7 L679.0,172.0 L679.4,171.7 L679.8,174.0 L680.2,174.6 L680.7,174.8 L681.2,177.5 L681.7,177.4 L682.2,180.1 L682.7,180.4 L682.9,181.1 L683.1,184.0 L683.2,182.9 L683.4,185.7 L683.6,185.7 L683.8,188.8 L683.9,188.3 L684.1,190.2 L685.0,192.3 L686.0,192.1 L686.1,190.0 L686.2,190.0 L686.3,187.3 L686.5,187.7 L686.6,184.8 L686.7,185.1 L686.8,181.8 L686.9,182.4 L687.0,179.4 L687.1,180.0 L687.3,176.6 L687.4,177.1 L687.5,173.8 L687.6,173.6 L687.8,175.5 L687.9,175.2 L688.1,178.0 L688.2,177.9 L688.4,180.7 L688.5,180.6 L688.7,183.7 L688.8,183.0 L689.0,185.3 L689.1,187.6 L689.2,187.2 L689.3,189.9 L689.4,189.7 L689.5,192.5 L689.6,192.0 L689.8,194.5 L689.9,194.5 L690.0,197.6 L690.1,197.0 L690.2,200.2 L690.3,199.8 L690.4,202.2 L690.5,202.9 L691.0,203.6 L691.5,206.0 L691.9,205.6 L692.4,208.3 L692.9,208.7 L693.5,209.1 L694.2,211.7 L694.8,211.7 L695.5,210.0 L696.3,210.4 L697.0,207.2 L697.8,206.8 L698.3,206.4 L698.8,203.3 L699.2,203.7 L699.7,201.9 L700.7,202.4 L701.7,203.9 L701.8,205.8 L701.8,206.0 L701.9,208.4 L702.0,208.1 L702.0,211.1 L702.1,210.9 L702.2,213.7 L702.3,213.6 L702.3,216.5 L702.4,216.1 L702.5,218.6 L702.5,218.7 L702.6,220.5 L702.7,222.8 L702.9,222.1 L703.0,225.5 L703.1,225.4 L703.2,227.9 L703.4,227.8 L703.5,230.5 L703.6,231.2 L704.3,228.7 L704.9,229.1 L705.6,227.3 L706.4,225.5 L707.2,226.4 L708.1,223.2 L708.9,223.4 L709.3,225.1 L709.7,224.9 L710.1,227.8 L710.6,227.5 L711.0,229.7 L711.4,230.2 L711.6,227.9 L711.9,228.3 L712.1,225.8 L712.4,226.0 L712.6,223.4 L712.9,223.4 L713.1,221.3 L713.4,220.5 L714.4,222.7 L715.3,221.4 L716.3,223.4 L717.6,224.7 L718.9,223.5 L720.2,224.4 L721.2,226.0 L722.1,225.5 L723.1,227.3 L723.6,229.1 L724.1,229.0 L724.6,232.1 L725.1,232.2 L725.8,232.8 L726.4,235.5 L727.1,236.1 L727.4,233.6 L727.7,234.4 L728.0,231.7 L728.4,231.6 L728.7,228.7 L729.0,228.3 L729.5,227.8 L729.9,225.6 L730.4,225.3 L730.6,225.0 L730.8,221.7 L731.0,222.4 L731.3,219.2 L731.5,219.8 L731.7,217.0 L731.9,216.5 L732.9,217.1 L733.9,215.6 L734.2,213.6 L734.5,214.0 L734.8,211.1 L735.2,211.1 L735.5,208.5 L735.8,207.8 L736.4,207.5 L737.0,204.9 L737.6,204.8 L738.2,202.5 L738.8,201.9 L739.5,203.9 L740.2,203.7 L741.0,206.3 L741.7,206.8 L742.7,206.2 L743.6,209.0 L744.6,208.7 L746.1,207.2 L747.6,207.8 L748.3,209.4 L749.0,209.0 L749.8,211.2 L750.5,211.7 L751.1,211.7 L751.8,214.3 L752.4,214.6 L752.5,215.3 L752.6,217.6 L752.6,217.9 L752.7,220.4 L752.8,220.4 L752.9,223.5 L753.0,222.7 L753.1,225.6 L753.1,225.6 L753.2,228.1 L753.3,227.7 L753.4,230.2 L754.4,231.2 L754.8,230.8 L755.2,227.9 L755.6,228.8 L756.1,225.5 L756.5,226.0 L756.9,224.4 L757.0,225.1 L757.1,227.8 L757.2,227.9 L757.3,230.8 L757.4,230.3 L757.5,233.3 L757.6,232.8 L757.7,235.4 L757.8,235.6 L757.9,238.2 L758.0,238.5 L758.1,240.8 L758.2,240.7 L758.3,242.9 L758.8,244.8 L759.3,245.8 L760.3,244.5 L761.2,245.3 L762.2,243.9 L763.2,244.0 L764.1,246.4 L765.1,246.8 L766.1,246.3 L767.1,247.8 L767.8,247.4 L768.5,244.9 L769.3,245.8 L770.0,243.9 L770.1,242.1 L770.2,242.0 L770.3,239.5 L770.4,239.8 L770.5,236.9 L770.6,237.1 L770.7,234.0 L770.8,234.4 L770.9,231.9 L771.0,232.0 L771.1,229.5 L771.2,229.3 L771.3,227.1 L771.4,226.3 L771.9,226.1 L772.4,223.1 L772.9,223.9 L773.4,220.5 L773.9,220.5 L774.0,222.4 L774.1,222.1 L774.2,225.4 L774.3,224.9 L774.4,227.7 L774.5,227.1 L774.6,230.4 L774.7,229.4 L774.8,232.4 L774.9,232.1 L775.0,234.7 L775.1,234.7 L775.2,237.5 L775.3,238.0 L775.4,236.3 L775.4,236.2 L775.5,233.5 L775.6,233.7 L775.7,231.0 L775.8,230.9 L775.8,228.3 L775.9,228.5 L776.0,225.9 L776.0,226.1 L776.1,223.3 L776.2,223.1 L776.3,220.7 L776.4,220.8 L776.4,218.2 L776.5,217.5 L776.8,219.7 L777.0,219.1 L777.3,222.3 L777.5,221.7 L777.8,224.4 L778.0,224.6 L778.3,227.3 L778.5,227.4 L778.8,229.2 L779.0,228.7 L779.3,226.3 L779.5,226.4 L779.8,223.5 L780.0,223.9 L780.3,221.3 L780.5,221.3 L780.8,219.5 L781.1,220.4 L781.4,222.8 L781.8,222.3 L782.1,225.6 L782.4,225.4 L782.7,227.3 L783.5,226.9 L784.2,224.1 L785.0,223.4 L785.1,222.8 L785.3,219.8 L785.4,220.6 L785.6,217.4 L785.7,217.6 L785.9,214.2 L786.0,215.1 L786.2,211.8 L786.3,212.3 L786.5,209.3 L786.6,208.7 L787.4,210.7 L788.1,210.5 L788.9,213.4 L789.6,213.6 L790.3,213.5 L791.0,216.3 L791.8,215.4 L792.5,217.5 L793.5,218.9 L794.5,218.9 L795.4,221.2 L796.4,221.4 L797.4,221.4 L798.3,223.4 L799.3,223.4 L799.8,221.0 L800.3,221.4 L800.8,219.1 L801.3,219.0 L801.8,216.2 L802.3,216.5 L802.8,214.6 L803.2,215.5 L803.6,218.0 L804.0,217.8 L804.4,220.4 L804.8,220.3 L805.2,222.4 L805.7,224.5 L806.2,223.8 L806.7,226.7 L807.1,226.1 L807.6,229.1 L808.1,229.2 L809.1,229.0 L810.1,231.2 L810.5,230.7 L811.0,228.1 L811.4,228.7 L811.8,225.8 L812.3,226.2 L812.7,223.1 L813.1,223.8 L813.6,220.5 L814.0,220.5 L814.5,222.9 L815.0,222.6 L815.5,224.4 L815.6,226.6 L815.7,226.2 L815.8,229.2 L815.9,228.9 L816.1,231.5 L816.2,231.2 L816.3,234.3 L816.4,234.2 L816.5,236.1 L816.6,235.4 L816.7,232.8 L816.9,232.8 L817.0,230.1 L817.1,230.1 L817.2,227.8 L817.3,227.5 L817.4,225.2 L817.5,225.4 L817.7,222.6 L817.8,222.6 L817.9,220.5 L818.2,218.3 L818.5,218.9 L818.8,216.4 L819.1,216.9 L819.4,214.6 L820.0,214.7 L820.6,217.5 L821.2,217.7 L821.8,219.5 L822.1,221.6 L822.5,221.0 L822.8,224.0 L823.1,223.6 L823.4,226.4 L823.8,226.1 L824.1,228.3 L825.0,228.0 L825.9,225.7 L826.7,226.4 L827.6,224.4 L828.2,222.1 L828.8,223.1 L829.4,220.0 L830.0,220.4 L830.6,218.5 L830.7,216.2 L830.8,216.8 L830.8,213.5 L830.9,214.2 L831.0,211.3 L831.1,211.3 L831.2,208.3 L831.3,208.5 L831.3,206.0 L831.4,205.7 L831.5,203.9 L832.0,201.9 L832.5,202.8 L833.0,199.3 L833.5,199.8 L834.0,197.2 L834.5,197.0 L834.8,198.9 L835.1,198.4 L835.5,201.2 L835.8,200.5 L836.1,203.9 L836.4,203.9 L837.4,204.1 L838.4,206.1 L839.4,205.8 L840.4,204.7 L841.3,205.0 L842.3,203.9 L842.8,204.5 L843.2,207.3 L843.7,206.3 L844.2,208.7 L844.6,210.5 L845.0,210.6 L845.4,213.0 L845.7,213.0 L846.1,215.9 L846.5,216.4 L846.8,214.3 L847.1,214.4 L847.4,211.3 L847.6,212.1 L847.9,209.0 L848.2,209.0 L848.5,206.0 L848.8,205.6 L849.7,207.6 L850.5,206.4 L851.4,209.2 L852.3,209.5 L852.8,209.8 L853.3,212.9 L853.8,212.2 L854.2,215.1 L854.7,215.2 L855.2,217.5 L855.7,218.3 L856.2,218.3 L856.7,221.2 L857.2,220.9 L857.6,223.4 L858.1,223.4 L858.6,225.2 L859.6,224.9 L860.5,222.8 L861.5,223.5 L862.5,222.2 L862.9,220.1 L863.2,220.4 L863.6,218.0 L864.0,218.1 L864.3,215.4 L864.7,215.5 L865.0,213.3 L865.4,212.5 L865.9,214.1 L866.4,213.7 L866.9,216.6 L867.4,216.6 L867.9,218.7 L868.4,219.3 L869.0,219.7 L869.6,222.9 L870.1,222.3 L870.7,225.1 L871.3,225.2 L872.6,224.1 L873.9,225.3 L875.2,224.2 L875.8,222.2 L876.5,223.0 L877.1,221.3 L877.5,222.0 L877.9,224.6 L878.2,224.0 L878.6,227.1 L879.0,226.7 L879.4,229.7 L879.7,228.7 L880.1,231.0 L880.8,231.0 L881.5,227.8 L882.3,228.4 L883.0,226.1 L883.4,223.8 L883.9,224.1 L884.3,221.8 L884.7,221.5 L885.2,219.1 L885.6,218.8 L886.0,216.3 L886.5,216.7 L886.9,214.4 L888.2,214.4 L889.5,216.6 L890.8,216.4 L891.8,215.2 L892.8,215.5 L893.7,213.0 L894.7,213.4 L895.1,212.7 L895.6,210.3 L896.0,211.1 L896.4,207.8 L896.9,208.7 L897.3,206.6 L897.4,204.6 L897.5,205.1 L897.5,201.7 L897.6,202.5 L897.7,199.0 L897.8,199.4 L897.9,196.5 L898.0,197.1 L898.0,194.2 L898.1,194.5 L898.2,191.4 L898.3,191.7 L898.4,189.2 L898.4,189.3 L898.5,186.8 L898.6,186.2 L899.4,185.7 L900.1,182.8 L900.9,183.6 L901.6,181.3 L902.2,179.3 L902.9,179.6 L903.5,177.4 L903.9,177.9 L904.3,180.4 L904.7,179.8 L905.1,182.7 L905.5,183.2 L905.9,181.3 L906.3,181.2 L906.6,178.1 L907.0,178.3 L907.4,176.4 L908.4,175.9 L909.4,177.4 L909.5,177.0 L909.6,173.9 L909.7,174.1 L909.8,171.8 L909.9,171.6 L910.0,169.1 L910.1,169.3 L910.2,166.8 L910.3,166.8 L910.4,164.7 L910.8,162.7 L911.2,162.8 L911.6,160.0 L912.1,160.7 L912.5,157.6 L912.9,156.9 L913.7,159.3 L914.4,158.8 L915.2,160.8 L916.2,161.3 L917.1,159.8 L917.3,160.6 L917.5,163.5 L917.7,162.9 L917.9,166.1 L918.1,165.6 L918.3,168.2 L918.5,167.7 L918.7,170.5 L918.9,170.6 L919.1,172.5 L919.4,172.1 L919.8,168.7 L920.1,169.3 L920.4,166.7 L920.8,166.7 L921.1,164.7 L921.5,164.8 L921.9,167.7 L922.3,167.6 L922.8,170.4 L923.2,170.1 L923.6,172.8 L924.0,173.5 L925.5,172.1 L927.0,172.5 L927.6,172.3 L928.3,168.8 L928.9,168.6 L928.9,168.2 L929.0,165.1 L929.0,165.5 L929.0,162.7 L929.1,163.0 L929.1,159.6 L929.2,160.0 L929.2,157.0 L929.2,157.3 L929.3,154.5 L929.3,153.9 L930.3,154.5 L931.3,153.9 L932.8,172.5" fill="none" stroke="#1e1e1e" stroke-width="1.1" stroke-linejoin="round"/>
<g class="yl"><text x="58.6" y="133.4">190k</text><text x="58.6" y="175.6">180k</text><text x="58.6" y="217.7">170k</text><text x="58.6" y="259.9">160k</text><text x="58.6" y="302.0">150k</text><text x="58.6" y="344.1">140k</text><text x="58.6" y="386.3">130k</text><text x="58.6" y="428.5">120k</text><text x="58.6" y="470.6">110k</text></g>
<g class="ax"><text fill="#5e5e5e" font-size="10" x="934.3" y="186.1">$65k</text><text fill="#5e5e5e" font-size="10" x="934.3" y="280.8">$55k</text><text fill="#5e5e5e" font-size="10" x="934.3" y="375.5">$45k</text><text fill="#5e5e5e" font-size="10" x="934.3" y="470.2">$35k</text><text x="144.9" y="487.4" text-anchor="middle">6. Sep</text><text x="228.7" y="487.4" text-anchor="middle">13. Sep</text><text x="312.4" y="487.4" text-anchor="middle">20. Sep</text><text x="396.1" y="487.4" text-anchor="middle">27. Sep</text><text x="479.9" y="487.4" text-anchor="middle">4. Oct</text><text x="563.6" y="487.4" text-anchor="middle">11. Oct</text><text x="647.4" y="487.4" text-anchor="middle">18. Oct</text><text x="731.1" y="487.4" text-anchor="middle">25. Oct</text><text x="814.9" y="487.4" text-anchor="middle">1. Nov</text><text x="898.6" y="487.4" text-anchor="middle">8. Nov</text></g>
<g class="lg">
<circle cx="576.4" cy="84" r="3.2" fill="#D49B5C"/>
<text x="583.4" y="87.6" textLength="284" lengthAdjust="spacing">Futures Open Interest Crypto-Margined - All Exchanges [BTC]</text>
<circle cx="894.3" cy="84" r="3.2" fill="#7a7a7a"/>
<text x="901.2" y="87.6" textLength="52" lengthAdjust="spacingAndGlyphs">Price [USD]</text>
</g>
<rect x="661" y="108" width="126" height="22" fill="#f8f8f8"/>
<rect x="661" y="136.5" width="87" height="20" fill="#f8f8f8"/>
<text class="ann" x="662.5" y="127.3">191.2k BTC</text>
<text class="ann" x="662.5" y="154.3">11/10/21</text>
<line x1="665" x2="916" y1="132.3" y2="132.3" stroke="#2a2a2a" stroke-width="1.1" stroke-dasharray="3.6 2.6"/>
<ellipse cx="933.6" cy="132.8" rx="17.6" ry="14.2" fill="#dcc9f3" stroke="#3b3850" stroke-width="1"/>
<path d="M931.3,190 L932,160 L932.6,128.5 L933.4,128.5 L933.5,190 Z" fill="#D59C5C"/>
<path d="M929.3,153.9 L931.3,153.9 L932.6,172.5" fill="none" stroke="#1e1e1e" stroke-width="1.1"/><path d="M932.6,172.5 L932.9,212" fill="none" stroke="#5a3b18" stroke-width="1.3" opacity="0.7"/>
<text x="46.5" y="527.4" font-size="11" fill="#808080" textLength="200" lengthAdjust="spacing">© 2021 Glassnode. All Rights Reserved.</text>
<text x="866" y="528" font-size="20.8" fill="#151515" stroke="#151515" stroke-width="0.45" textLength="103.5" lengthAdjust="spacingAndGlyphs">glassnode</text>
</svg>
</body></html>
